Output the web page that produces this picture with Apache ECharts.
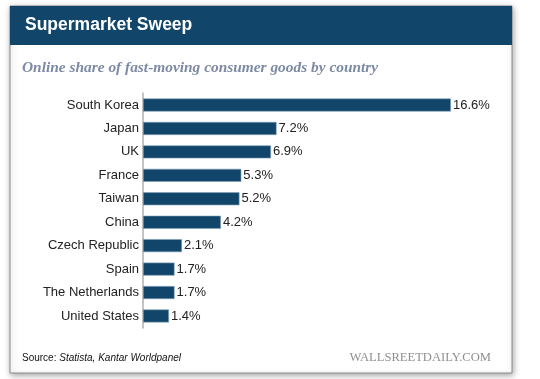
<!DOCTYPE html>
<html><head><meta charset="utf-8">
<script src="https://cdn.jsdelivr.net/npm/echarts@6/dist/echarts.min.js"></script>
<style>html,body{margin:0;padding:0;background:#fff}#c{width:540px;height:379px}</style>
</head><body><div id="c"></div>
<script>
const categories = ['South Korea','Japan','UK','France','Taiwan','China','Czech Republic','Spain','The Netherlands','United States'];
const values = [16.6, 7.2, 6.9, 5.3, 5.2, 4.2, 2.1, 1.7, 1.7, 1.4];

const chart = echarts.init(document.getElementById('c'));
chart.setOption({
  animation: false,
  backgroundColor: '#fff',
  graphic: [
    {type:'rect', shape:{x:10,y:6,width:502,height:367}, style:{fill:'#fff', stroke:'#8a8a8a', lineWidth:1, shadowBlur:6, shadowColor:'rgba(0,0,0,0.35)', shadowOffsetX:1, shadowOffsetY:2}, z:-10},
    {type:'rect', shape:{x:10,y:6,width:502,height:39}, style:{fill:'#11466a'}, z:-9},
    {type:'text', left:25, top:16, style:{text:'Supermarket Sweep', fill:'#fff', font:'bold 17.5px "Liberation Sans", Arial, sans-serif'}},
    {type:'text', left:22, top:61, style:{text:'Online share of fast-moving consumer goods by country', fill:'#7d8aa3', font:'italic bold 15.4px "Liberation Serif", "DejaVu Serif", serif'}},
    {type:'text', left:22, top:353, style:{rich:{a:{font:'10px "Liberation Sans", Arial, sans-serif', fill:'#111'}, b:{font:'italic 10px "Liberation Sans", Arial, sans-serif', fill:'#111'}}, text:'{a|Source: }{b|Statista, Kantar Worldpanel}'}},
    {type:'text', right:49, top:351, style:{text:'WALLSREETDAILY.COM', fill:'#8f8f8f', font:'12.6px "Liberation Serif", "DejaVu Serif", serif'}}
  ],
  grid: {left:143, top:93.3, width:371, height:234.4, containLabel:false},
  xAxis: {type:'value', min:0, max:20, show:false},
  yAxis: {
    type:'category', data:categories, inverse:true,
    axisLine:{show:true, lineStyle:{color:'#c4c4c4', width:2}},
    axisTick:{show:false},
    axisLabel:{color:'#222', fontSize:13, margin:4, fontFamily:'"Liberation Sans", Arial, sans-serif'}
  },
  series: [{
    type:'bar', data:values, barWidth:13,
    itemStyle:{color:'#11466a', borderColor:'#7f9fb8', borderWidth:0.6},
    label:{show:true, position:'right', distance:2, formatter:p=>p.value.toFixed(1)+'%', color:'#222', fontSize:13, fontFamily:'"Liberation Sans", Arial, sans-serif'}
  }]
});
</script></body></html>
